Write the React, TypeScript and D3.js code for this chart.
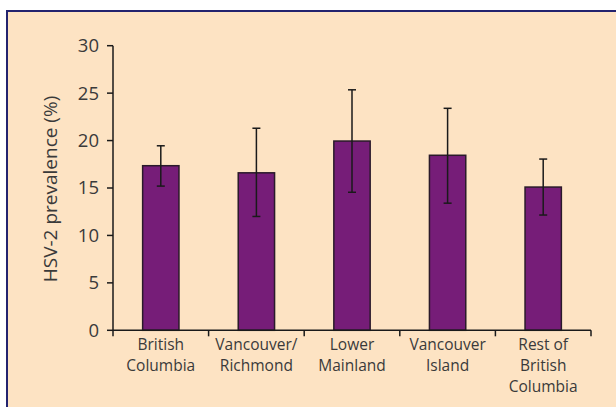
import React from "react";
import * as d3 from "d3";

// HSV-2 prevalence by region, with 95% confidence intervals
const regions: string[][] = [
  ["British", "Columbia"],
  ["Vancouver/", "Richmond"],
  ["Lower", "Mainland"],
  ["Vancouver", "Island"],
  ["Rest of", "British", "Columbia"],
];
const prevalence = [17.35, 16.6, 19.95, 18.45, 15.1];
const ciLow = [15.2, 12.0, 14.55, 13.4, 12.15];
const ciHigh = [19.45, 21.3, 25.35, 23.4, 18.05];
const yTicks = [0, 5, 10, 15, 20, 25, 30];

const W = 616;
const H = 407;
const FONT = "'Open Sans', 'DejaVu Sans', sans-serif";
const TEXT = "#3a3a3a";

export default function App() {
  const left = 113;
  const right = 591;
  const top = 45.7;
  const bottom = 330.3;

  const x = d3
    .scaleBand<number>()
    .domain(d3.range(regions.length))
    .range([left, right])
    .paddingInner(0.62)
    .paddingOuter(0.31);
  const y = d3.scaleLinear().domain([0, 30]).range([bottom, top]);
  const step = (right - left) / regions.length;

  return (
    <svg
      width={W}
      height={H}
      style={{ position: "absolute", left: 0, top: 0, display: "block" }}
    >
      <rect x={0} y={0} width={W} height={H} fill="#ffffff" />
      <rect x={7} y={11} width={W + 10} height={H} fill="#fde3c3" stroke="#23236e" strokeWidth={2} />

      {/* bars */}
      {prevalence.map((v, i) => (
        <rect
          key={`b${i}`}
          x={x(i)}
          y={y(v)}
          width={x.bandwidth()}
          height={y(0) - y(v)}
          fill="#761d78"
          stroke="#2a1a2a"
          strokeWidth={1.5}
        />
      ))}

      {/* error bars */}
      {prevalence.map((_, i) => {
        const cx = (x(i) as number) + x.bandwidth() / 2;
        return (
          <g key={`e${i}`} stroke="#1a1a1a" strokeWidth={1.5}>
            <line x1={cx} x2={cx} y1={y(ciLow[i])} y2={y(ciHigh[i])} />
            <line x1={cx - 4} x2={cx + 4} y1={y(ciLow[i])} y2={y(ciLow[i])} />
            <line x1={cx - 4} x2={cx + 4} y1={y(ciHigh[i])} y2={y(ciHigh[i])} />
          </g>
        );
      })}

      {/* y axis */}
      <line x1={left} x2={left} y1={top} y2={bottom} stroke="#1a1a1a" strokeWidth={1.5} />
      {yTicks.map((t) => (
        <g key={`yt${t}`}>
          <line x1={left - 6} x2={left} y1={y(t)} y2={y(t)} stroke="#1a1a1a" strokeWidth={1.5} />
          <text
            x={left - 14}
            y={y(t)}
            dy="0.35em"
            textAnchor="end"
            fontFamily={FONT}
            fontSize={18.5}
            fill={TEXT}
          >
            {t}
          </text>
        </g>
      ))}
      <text
        transform={`translate(57,${(top + bottom) / 2 + 1}) rotate(-90)`}
        textAnchor="middle"
        fontFamily={FONT}
        fontSize={19}
        fill={TEXT}
      >
        HSV-2 prevalence (%)
      </text>

      {/* x axis */}
      <line x1={left} x2={right} y1={bottom} y2={bottom} stroke="#1a1a1a" strokeWidth={1.5} />
      {d3.range(regions.length + 1).map((k) => (
        <line
          key={`xt${k}`}
          x1={left + k * step}
          x2={left + k * step}
          y1={bottom}
          y2={bottom + 6}
          stroke="#1a1a1a"
          strokeWidth={1.5}
        />
      ))}
      {regions.map((lines, i) => (
        <text
          key={`xl${i}`}
          x={(x(i) as number) + x.bandwidth() / 2}
          y={350}
          textAnchor="middle"
          fontFamily={FONT}
          fontSize={15.5}
          fill={TEXT}
        >
          {lines.map((s, j) => (
            <tspan key={j} x={(x(i) as number) + x.bandwidth() / 2} dy={j === 0 ? 0 : 21}>
              {s}
            </tspan>
          ))}
        </text>
      ))}
    </svg>
  );
}
